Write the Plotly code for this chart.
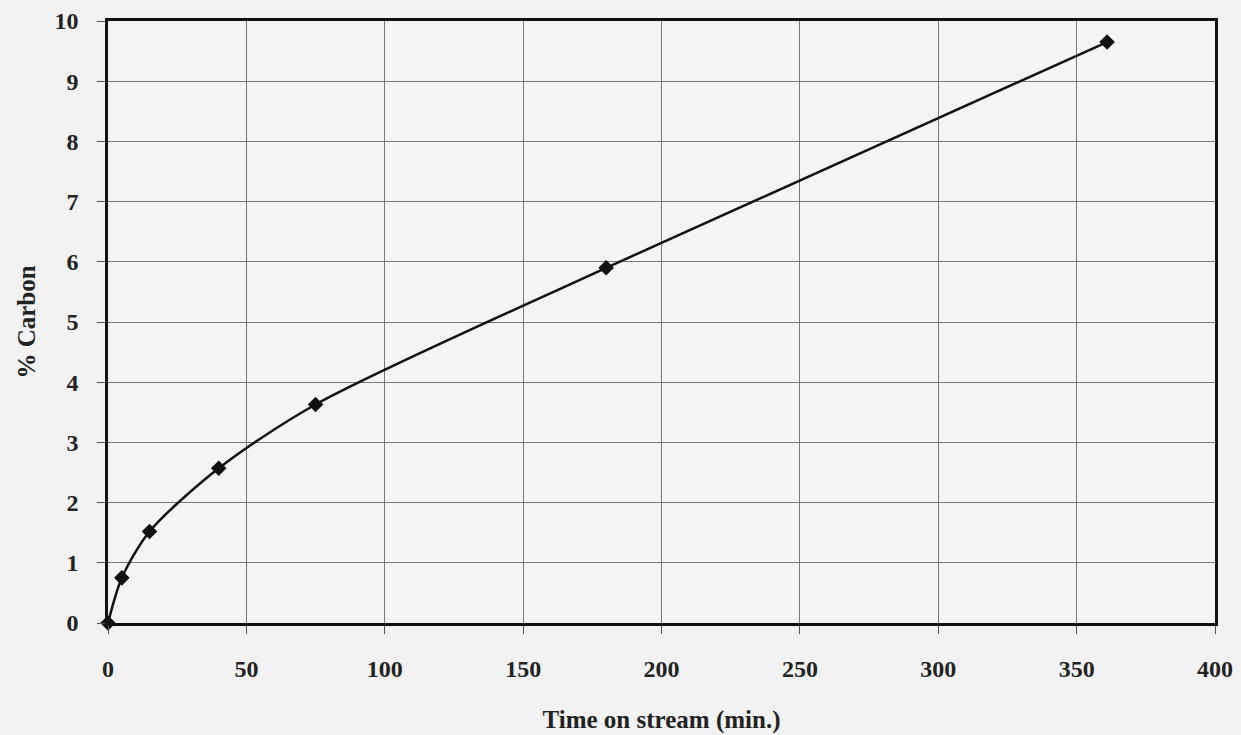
import plotly.graph_objects as go

time_min = [0, 5, 15, 40, 75, 180, 361]
carbon_pct = [0, 0.75, 1.52, 2.57, 3.63, 5.9, 9.65]
x_ticks = [0, 50, 100, 150, 200, 250, 300, 350, 400]
y_ticks = list(range(0, 11))

fig = go.Figure()
fig.add_trace(go.Scatter(
    x=time_min, y=carbon_pct, mode="lines+markers",
    line=dict(color="#111111", width=2.5, shape="spline", smoothing=0.8),
    marker=dict(symbol="diamond", size=12, color="#111111"),
    cliponaxis=False,
    showlegend=False,
))

tfont = dict(family="Liberation Serif", size=24, color="#222222", weight="bold")
titfont = dict(family="Liberation Serif", size=25, color="#222222", weight="bold")
fig.update_layout(
    width=1241, height=735,
    margin=dict(l=108, r=26, t=21, b=112),
    paper_bgcolor="#f2f2f2", plot_bgcolor="#f4f4f4",
    font=dict(family="Liberation Serif", size=18, color="#222222"),
)
fig.update_xaxes(
    range=[0, 400], tickvals=x_ticks, ticks="outside", ticklen=8, tickcolor="#555",
    ticklabelstandoff=14, automargin=False,
    showgrid=True, gridcolor="#777777", gridwidth=1.3,
    showline=True, linecolor="#111", linewidth=2.5, mirror=True, zeroline=False,
    tickfont=tfont,
    title=dict(text="Time on stream (min.)", font=titfont, standoff=30),
)
fig.update_yaxes(
    range=[0, 10], tickvals=y_ticks, ticks="outside", ticklen=8, tickcolor="#555",
    ticklabelstandoff=14, automargin=False,
    showgrid=True, gridcolor="#777777", gridwidth=1.3,
    showline=True, linecolor="#111", linewidth=2.5, mirror=True, zeroline=False,
    tickfont=tfont,
    title=dict(text="% Carbon", font=titfont, standoff=12),
)
fig.write_html("out.html", config={"displayModeBar": False},
               post_script="document.body.style.margin='0';document.body.style.background='#f2f2f2';")
